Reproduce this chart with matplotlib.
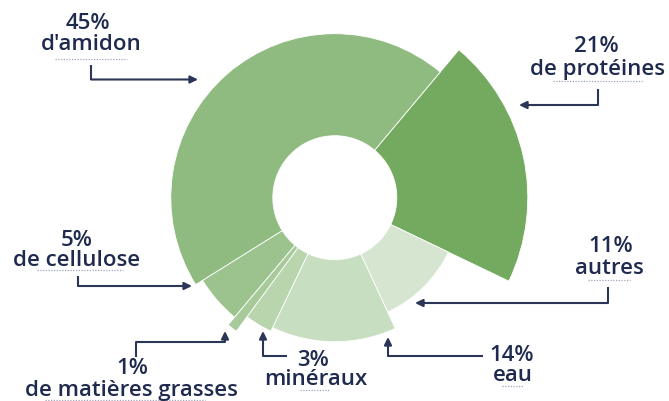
import numpy as np
import matplotlib
matplotlib.use('Agg')
import matplotlib.pyplot as plt
from matplotlib.patches import Wedge

plt.rcParams['font.family'] = ['Open Sans', 'DejaVu Sans']

# données (composition, en %)
labels = ['de protéines', 'autres', 'eau', 'minéraux', 'de matières grasses', 'de cellulose', "d'amidon"]
pourcent = [21, 11, 14, 3, 1, 5, 45]
rayons = [193, 126, 144, 148, 166, 156, 164]   # rayon extérieur de chaque part (px)
couleurs = ['#74AA60', '#D5E5CF', '#C7DFC0', '#B8D5AD', '#A8CA9B', '#9CC38E', '#8FBB80']

centre = (334.8, 198.7)
r_trou = 62
depart = 50   # angle de départ (degrés), sens horaire

fig = plt.figure(figsize=(6.69, 4.02), dpi=100)
ax = fig.add_axes([0, 0, 1, 1])
ax.set_xlim(0, 669)
ax.set_ylim(402, 0)
ax.axis('off')

cum = np.concatenate([[0], np.cumsum(pourcent)])
for i in range(len(pourcent)):
    # axe y inversé -> angles inversés
    t1 = cum[i] * 3.6 - depart
    t2 = cum[i + 1] * 3.6 - depart
    w = Wedge(centre, rayons[i], t1, t2, width=rayons[i] - r_trou,
              facecolor=couleurs[i], edgecolor='white', linewidth=0.6)
    ax.add_patch(w)

navy = '#1F2A4F'
fleche = '#2B3556'

# textes : (x %, baseline %, x libellé, baseline libellé)
textes = {
    "d'amidon": (88, 29, 91, 50),
    'de protéines': (596, 51.5, 597, 75),
    'de cellulose': (77, 246.5, 77, 266.5),
    'de matières grasses': (132, 374, 131, 396),
    'minéraux': (313, 366, 316, 385),
    'eau': (512, 361, 513, 381.5),
    'autres': (611, 252.5, 609, 274),
}
soulignes = {
    "d'amidon": (55, 127, 60),
    'de protéines': (553, 643, 82),
    'de cellulose': (37, 123, 271),
    'de matières grasses': (45, 205, 400.5),
    'minéraux': (300, 330, 391),
    'eau': (502, 523, 387),
    'autres': (588, 630, 281),
}
chemins = {
    "d'amidon": [(91, 66), (91, 80.5), (198, 80.5)],
    'de protéines': [(598, 90), (598, 106), (519, 106)],
    'de cellulose': [(78, 277), (78, 287), (192, 287)],
    'de matières grasses': [(136, 358), (136, 343), (225, 343), (225, 332)],
    'minéraux': [(287, 357), (263, 357), (263, 332)],
    'eau': [(483, 357), (388, 357), (388, 338)],
    'autres': [(608, 288), (608, 304), (415, 304)],
}

for lab, p in zip(labels, pourcent):
    xp, yp, xl, yl = textes[lab]
    ax.text(xp, yp, f'{p}%', ha='center', va='baseline', fontsize=16,
            fontweight='semibold', color=navy)
    ax.text(xl, yl, lab, ha='center', va='baseline', fontsize=16,
            fontweight='semibold', color=navy)
    x1, x2, ys = soulignes[lab]
    ax.plot([x1, x2], [ys, ys], color='#9FA5BD', linewidth=0.9, linestyle=(0, (1, 1.2)))
    pts = chemins[lab]
    xs = [q[0] for q in pts]
    ys_ = [q[1] for q in pts]
    ax.plot(xs[:-1], ys_[:-1], color=fleche, linewidth=1.5, solid_capstyle='butt')
    ax.annotate('', xy=pts[-1], xytext=pts[-2],
                arrowprops=dict(arrowstyle='-|>,head_length=0.45,head_width=0.22',
                                color=fleche, linewidth=1.5, shrinkA=0, shrinkB=0))

fig.savefig('out.png', dpi=100)
